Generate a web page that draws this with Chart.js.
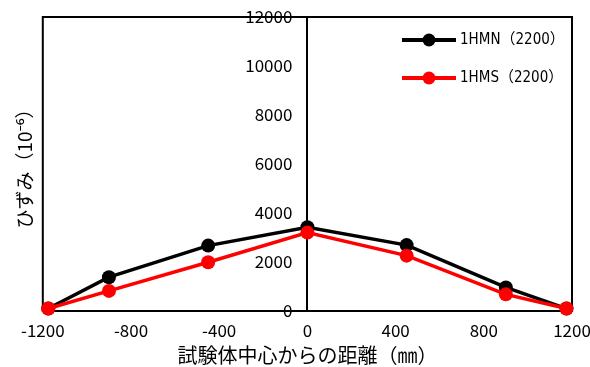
<!DOCTYPE html>
<html>
<head>
<meta charset="utf-8">
<script src="https://cdn.jsdelivr.net/npm/chart.js@4.4.0/dist/chart.umd.min.js"></script>
<style>
  html, body { margin: 0; padding: 0; background: #fff; }
</style>
</head>
<body>
<canvas id="c" width="590" height="367"></canvas>
<script>
// Gauge positions measured from the specimen centre (mm)
const positions = [-1175, -900, -450, 0, 450, 900, 1175];
// Strain readings (x10^-6)
const strainHMN = [100, 1380, 2670, 3420, 2690, 960, 100];
const strainHMS = [100, 820, 1990, 3200, 2260, 680, 100];
const seriesNames = ['1HMN（2200）', '1HMS（2200）'];
const seriesColors = ['#000000', '#ff0000'];
const xTickValues = [-1200, -800, -400, 0, 400, 800, 1200];
const yTickValues = [0, 2000, 4000, 6000, 8000, 10000, 12000];

const FONT = "'Noto Sans CJK JP', 'Noto Sans', sans-serif";
const LEGEND_FONT = "'Liberation Sans Narrow', 'DejaVu Sans Condensed', 'Noto Sans CJK JP', sans-serif";
Chart.defaults.font.family = FONT;
Chart.defaults.font.size = 17;
Chart.defaults.color = '#000';

const Y_LABEL_GAP = 15;

function toPoints(values) {
  return positions.map((x, i) => ({ x: x, y: values[i] }));
}

// Black frame round the plotting area
const framePlugin = {
  id: 'frame',
  beforeDatasetsDraw(chart) {
    const { ctx, chartArea: a } = chart;
    ctx.save();
    ctx.strokeStyle = '#000';
    ctx.lineWidth = 2;
    ctx.strokeRect(a.left, a.top, a.right - a.left, a.bottom - a.top);
    ctx.restore();
  }
};

// The centre axis puts its labels flush against the line; leave a gap
const centreAxisGap = {
  id: 'centreAxisGap',
  beforeDraw(chart) {
    const s = chart.scales.y;
    if (!s || !s._computeLabelItems) return;
    const items = s._computeLabelItems(chart.chartArea);
    items.forEach(it => { it.options.translation[0] -= Y_LABEL_GAP; });
    s._labelItems = items;
  }
};

// Legend drawn inside the plot, top right
const insetLegend = {
  id: 'insetLegend',
  afterDatasetsDraw(chart) {
    const { ctx, chartArea: a } = chart;
    const lineStart = a.right - 170;
    const lineEnd = a.right - 116;
    const textX = a.right - 112;
    ctx.save();
    chart.data.datasets.forEach((ds, i) => {
      const y = a.top + 23 + i * 38;
      ctx.strokeStyle = ds.borderColor;
      ctx.lineWidth = 4;
      ctx.beginPath();
      ctx.moveTo(lineStart, y);
      ctx.lineTo(lineEnd, y);
      ctx.stroke();
      ctx.fillStyle = ds.pointBackgroundColor;
      ctx.beginPath();
      ctx.arc((lineStart + lineEnd) / 2, y, 6.5, 0, Math.PI * 2);
      ctx.fill();
      ctx.fillStyle = '#000';
      ctx.font = '15px ' + LEGEND_FONT;
      ctx.textBaseline = 'middle';
      ctx.textAlign = 'left';
      ctx.fillText(ds.label, textX, y);
    });
    ctx.restore();
  }
};

new Chart(document.getElementById('c'), {
  type: 'line',
  data: {
    datasets: [
      {
        label: seriesNames[0],
        data: toPoints(strainHMN),
        borderColor: seriesColors[0],
        backgroundColor: seriesColors[0],
        pointBackgroundColor: seriesColors[0],
        pointBorderColor: seriesColors[0],
        borderWidth: 3.5,
        pointRadius: 7,
        pointBorderWidth: 0,
        tension: 0,
        order: 1
      },
      {
        label: seriesNames[1],
        data: toPoints(strainHMS),
        borderColor: seriesColors[1],
        backgroundColor: seriesColors[1],
        pointBackgroundColor: seriesColors[1],
        pointBorderColor: seriesColors[1],
        borderWidth: 3.5,
        pointRadius: 7,
        pointBorderWidth: 0,
        tension: 0,
        order: 0
      }
    ]
  },
  options: {
    responsive: false,
    animation: false,
    devicePixelRatio: 1,
    clip: false,
    layout: { padding: { left: 13, right: 18, top: 17, bottom: 0 } },
    plugins: {
      legend: { display: false },
      tooltip: { enabled: false }
    },
    scales: {
      x: {
        type: 'linear',
        position: 'bottom',
        min: xTickValues[0],
        max: xTickValues[xTickValues.length - 1],
        afterBuildTicks(scale) {
          scale.ticks = xTickValues.map(v => ({ value: v }));
        },
        afterFit(scale) {
          scale.height = 56;
          scale.paddingLeft = 0;
          scale.paddingRight = 0;
        },
        grid: { display: false, drawTicks: false },
        border: { display: true, color: '#000', width: 2 },
        ticks: {
          padding: 9,
          maxRotation: 0,
          autoSkip: false,
          callback: v => String(v)
        },
        title: {
          display: true,
          text: '試験体中心からの距離（㎜）',
          font: { size: 20 },
          padding: { top: 0, bottom: 0 }
        }
      },
      y: {
        type: 'linear',
        position: { x: 0 },
        min: yTickValues[0],
        max: yTickValues[yTickValues.length - 1],
        afterBuildTicks(scale) {
          scale.ticks = yTickValues.map(v => ({ value: v }));
        },
        afterFit(scale) {
          scale.paddingTop = 0;
          scale.paddingBottom = 0;
        },
        grid: { display: false, drawTicks: false },
        border: { display: true, color: '#000', width: 2 },
        ticks: {
          padding: 0,
          autoSkip: false,
          callback: v => String(v)
        }
      },
      yTitle: {
        type: 'linear',
        position: 'left',
        min: 0,
        max: 1,
        grid: { display: false, drawTicks: false },
        border: { display: false },
        ticks: { display: false },
        title: {
          display: true,
          text: 'ひずみ（10⁻⁶）',
          font: { size: 19 },
          padding: { top: 0, bottom: 7 }
        }
      }
    }
  },
  plugins: [framePlugin, centreAxisGap, insetLegend]
});
</script>
</body>
</html>
